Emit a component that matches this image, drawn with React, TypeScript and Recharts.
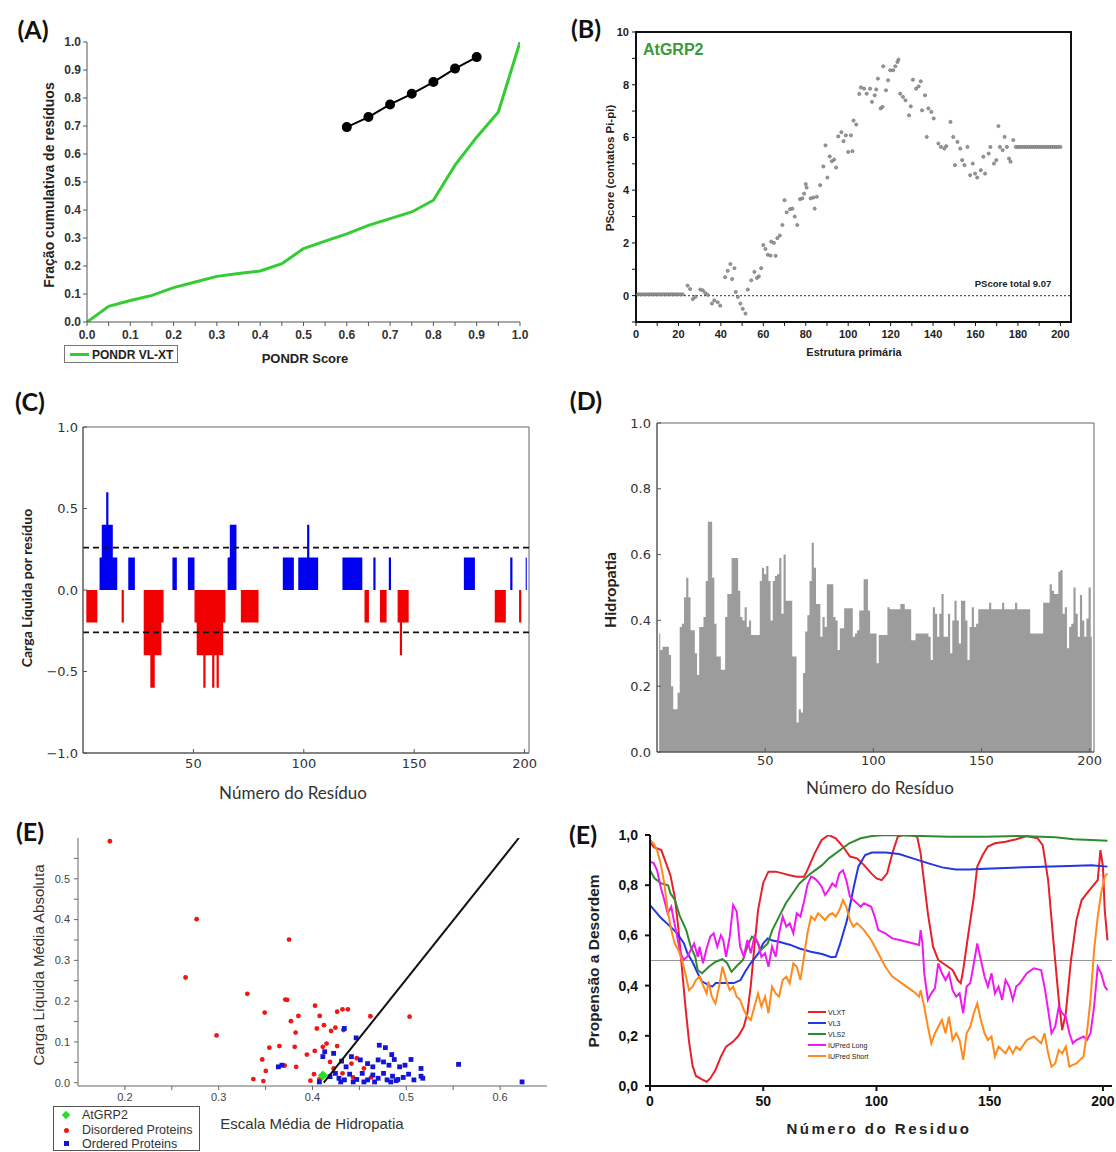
import React from "react";
import {
  LineChart,
  Line,
  XAxis,
  YAxis,
  ScatterChart,
  Scatter,
  AreaChart,
  Area,
  ReferenceLine,
  ReferenceArea,
} from "recharts";

const ARIAL = "'Liberation Sans', Arial, sans-serif";
const VERA = "'DejaVu Sans', sans-serif";
const CALIBRI = "Lato, 'Open Sans', sans-serif";

type Pt = [number, number];

// (A) PONDR cumulative distribution
const pondrScore = [0, 0.05, 0.1, 0.15, 0.2, 0.25, 0.3, 0.35, 0.4, 0.45, 0.5, 0.55, 0.6, 0.65, 0.7, 0.75, 0.8, 0.85, 0.9, 0.95, 1.0];
const vlxtCumulative = [0, 0.056, 0.077, 0.095, 0.123, 0.143, 0.163, 0.173, 0.182, 0.208, 0.262, 0.289, 0.315, 0.345, 0.369, 0.393, 0.435, 0.56, 0.66, 0.75, 1.0];
const refScore = [0.6, 0.65, 0.7, 0.75, 0.8, 0.85, 0.9];
const refCumulative = [0.696, 0.732, 0.777, 0.815, 0.857, 0.905, 0.946];
const scoreTicks = [0, 0.05, 0.1, 0.15, 0.2, 0.25, 0.3, 0.35, 0.4, 0.45, 0.5, 0.55, 0.6, 0.65, 0.7, 0.75, 0.8, 0.85, 0.9, 0.95, 1.0];
const fractionTicks = [0, 0.1, 0.2, 0.3, 0.4, 0.5, 0.6, 0.7, 0.8, 0.9, 1.0];

// (B) PScore per residue
const pscorePoints: Pt[] = [
  [1, 0.05], [2, 0.05], [3, 0.05], [4, 0.05], [5, 0.05], [6, 0.05], [7, 0.05], [8, 0.05], [9, 0.05], [10, 0.05], [11, 0.05],
  [12, 0.05], [13, 0.05], [14, 0.05], [15, 0.05], [16, 0.05], [17, 0.05], [18, 0.05], [19, 0.05], [20, 0.05], [21, 0.05], [22, 0.05],
  [24.3, 0.38], [25.5, 0.25], [26.8, -0.13], [28, -0.05], [30.3, 0.23], [31.5, 0.2], [32.6, 0.1], [33.8, 0.03], [35.8, -0.3],
  [36.9, -0.18], [38.5, -0.25], [39.7, -0.38], [42, 0.7], [43.2, 0.94], [44.5, 1.2], [45.3, 0.63], [46.4, 1.04], [47, 0.14],
  [48, -0.05], [49.2, -0.3], [50.3, -0.5], [51.6, -0.68], [52.7, 0.23], [54.3, 0.58], [55.8, 0.9], [57, 0.67], [57.9, 0.73],
  [59, 1.04], [60, 1.92], [61, 1.77], [62.1, 1.55], [63.4, 1.52], [65.8, 1.51], [63.7, 2.05], [65, 2.0], [66.6, 2.18], [67.8, 2.28],
  [69, 2.68], [70, 3.62], [71, 3.16], [72.6, 3.28], [73.7, 3.3], [74.8, 3.0], [76, 2.68], [77.3, 3.66], [78.4, 3.69], [79.2, 3.87],
  [80, 4.23], [80.4, 4.1], [82.3, 3.69], [83.6, 3.72], [84.2, 3.3], [85.2, 3.75], [86.8, 4.19], [88.3, 4.9], [89.3, 5.7],
  [90.2, 4.48], [91.3, 5.28], [92.3, 5.1], [93.4, 5.16], [94.3, 4.86], [95.3, 6.04], [96.8, 6.2], [97.8, 5.86], [98.9, 6.08],
  [100, 5.45], [101.3, 6.08], [102, 5.48], [102.5, 6.64], [103.8, 6.49], [105.2, 7.65], [106, 7.9], [107.5, 7.85], [108.7, 7.66],
  [110.3, 7.85], [111.2, 7.35], [112.5, 7.6], [113.2, 7.82], [114, 8.23], [115.3, 7.1], [116.2, 7.16], [116.5, 8.7], [117.8, 7.79],
  [118.8, 8.17], [119.8, 8.55], [121.2, 8.55], [122.2, 8.7], [123.2, 8.86], [123.7, 8.95], [124.5, 7.66], [125.8, 7.54],
  [127, 7.41], [128.7, 6.84], [129.5, 7.18], [130.5, 8.19], [132, 7.85], [133.2, 7.94], [134.2, 8.13], [134.8, 7.03], [136.2, 7.6],
  [137, 6.02], [137.8, 7.1], [139.2, 6.97], [140.3, 6.72], [142.5, 5.77], [143.7, 5.64], [145.3, 5.58], [146.2, 5.67], [148.2, 6.59],
  [149.5, 6.02], [150.3, 4.95], [151.5, 5.83], [152.8, 5.58], [153.7, 5.14], [154.8, 4.95], [156.2, 5.64], [157.5, 4.57],
  [158.7, 5.01], [159.8, 4.63], [160.8, 4.48], [162.5, 4.76], [163.7, 5.27], [164.5, 4.63], [166.2, 5.39], [167, 5.64],
  [168.7, 5.01], [169.8, 5.14], [170.8, 6.43], [171.5, 5.64], [172.8, 5.52], [173.7, 6.02], [174.8, 5.64], [175.8, 5.2],
  [176.5, 5.08], [177.8, 5.9],
  [179, 5.64], [180, 5.64], [181, 5.64], [182, 5.64], [183, 5.64], [184, 5.64], [185, 5.64], [186, 5.64], [187, 5.64], [188, 5.64],
  [189, 5.64], [190, 5.64], [191, 5.64], [192, 5.64], [193, 5.64], [194, 5.64], [195, 5.64], [196, 5.64], [197, 5.64], [198, 5.64],
  [199, 5.64], [200, 5.64],
];
const primaryTicks = [0, 10, 20, 30, 40, 50, 60, 70, 80, 90, 100, 110, 120, 130, 140, 150, 160, 170, 180, 190, 200];
const pscoreTicks = [-1, 0, 1, 2, 3, 4, 5, 6, 7, 8, 9, 10];

// (C) net charge per residue (residues 1..201)
const ncpr = [
  0, -0.2, -0.2, -0.2, -0.2, -0.2, 0, 0.2, 0.4, 0.4,
  0.6, 0.4, 0.4, 0.2, 0.2, 0, 0, -0.2, 0, 0,
  0.2, 0.2, 0.2, 0, 0, 0, 0, -0.4, -0.4, -0.4,
  -0.6, -0.6, -0.4, -0.4, -0.4, -0.2, 0, 0, 0, 0,
  0.2, 0.2, 0, 0, 0, 0, 0, 0.2, 0.2, 0.2,
  -0.2, -0.4, -0.4, -0.4, -0.6, -0.4, -0.4, -0.4, -0.6, -0.4,
  -0.6, -0.4, -0.4, -0.2, 0, 0.2, 0.4, 0.4, 0.4, 0,
  0, -0.2, -0.2, -0.2, -0.2, -0.2, -0.2, -0.2, -0.2, 0,
  0, 0, 0, 0, 0, 0, 0, 0, 0, 0,
  0.2, 0.2, 0.2, 0.2, 0.2, 0, 0, 0.2, 0.2, 0.2,
  0.2, 0.4, 0.2, 0.2, 0.2, 0.2, 0, 0, 0, 0,
  0, 0, 0, 0, 0, 0, 0, 0.2, 0.2, 0.2,
  0.2, 0.2, 0.2, 0.2, 0.2, 0.2, 0, -0.2, -0.2, 0,
  0, 0.2, 0, 0, -0.2, -0.2, -0.2, 0, 0.2, 0,
  0, 0, -0.2, -0.4, -0.2, -0.2, -0.2, 0, 0, 0,
  0, 0, 0, 0, 0, 0, 0, 0, 0, 0,
  0, 0, 0, 0, 0, 0, 0, 0, 0, 0,
  0, 0, 0.2, 0.2, 0.2, 0.2, 0.2, 0, 0, 0,
  0, 0, 0, 0, 0, 0, -0.2, -0.2, -0.2, -0.2,
  -0.2, 0, 0, 0.2, 0, 0, 0, -0.2, 0, 0,
  0.2,
];
const chargeTicks = [-1, -0.5, 0, 0.5, 1];
const residueTicks = [50, 100, 150, 200];

// (D) hydropathy per residue (residues 1..201)
const hydropathy = [
  0.36, 0.31, 0.32, 0.32, 0.32, 0.295, 0.2, 0.13, 0.13, 0.18,
  0.38, 0.39, 0.47, 0.53, 0.47, 0.37, 0.37, 0.3, 0.234, 0.38,
  0.38, 0.41, 0.52, 0.7, 0.7, 0.53, 0.39, 0.29, 0.29, 0.25,
  0.25, 0.41, 0.48, 0.48, 0.59, 0.59, 0.59, 0.49, 0.41, 0.4,
  0.44, 0.38, 0.4, 0.356, 0.356, 0.356, 0.356, 0.52, 0.56, 0.54,
  0.565, 0.52, 0.4, 0.52, 0.535, 0.54, 0.59, 0.42, 0.6, 0.46,
  0.46, 0.46, 0.29, 0.29, 0.09, 0.13, 0.12, 0.24, 0.366, 0.416,
  0.52, 0.636, 0.56, 0.45, 0.45, 0.35, 0.41, 0.38, 0.51, 0.51,
  0.51, 0.41, 0.4, 0.31, 0.376, 0.376, 0.437, 0.437, 0.437, 0.437,
  0.35, 0.36, 0.37, 0.43, 0.43, 0.525, 0.525, 0.43, 0.36, 0.36,
  0.36, 0.27, 0.356, 0.356, 0.356, 0.356, 0.44, 0.434, 0.434, 0.434,
  0.434, 0.434, 0.45, 0.45, 0.434, 0.434, 0.434, 0.34, 0.34, 0.36,
  0.36, 0.36, 0.36, 0.36, 0.36, 0.35, 0.28, 0.44, 0.42, 0.35,
  0.42, 0.48, 0.35, 0.35, 0.42, 0.3, 0.4, 0.46, 0.4, 0.33,
  0.46, 0.46, 0.4, 0.28, 0.38, 0.44, 0.38, 0.39, 0.434, 0.434,
  0.434, 0.434, 0.434, 0.454, 0.434, 0.434, 0.434, 0.434, 0.434, 0.454,
  0.434, 0.434, 0.434, 0.434, 0.434, 0.454, 0.434, 0.434, 0.434, 0.434,
  0.434, 0.434, 0.36, 0.36, 0.36, 0.36, 0.36, 0.36, 0.454, 0.454,
  0.454, 0.51, 0.49, 0.48, 0.48, 0.548, 0.553, 0.42, 0.44, 0.315,
  0.38, 0.39, 0.5, 0.42, 0.35, 0.477, 0.4, 0.35, 0.406, 0.5,
  0.35,
];
const hydroTicks = [0, 0.2, 0.4, 0.6, 0.8, 1.0];

// (E) charge-hydropathy plot
const disorderedProteins: Pt[] = [
  [0.184, 0.592], [0.2765, 0.401], [0.375, 0.351], [0.2647, 0.258], [0.3305, 0.218], [0.371, 0.204], [0.373, 0.203],
  [0.2977, 0.116], [0.349, 0.172], [0.385, 0.164], [0.377, 0.151], [0.382, 0.123], [0.4027, 0.189], [0.4077, 0.164],
  [0.4046, 0.133], [0.4122, 0.141], [0.4263, 0.174], [0.432, 0.18], [0.4377, 0.18], [0.4244, 0.135], [0.4198, 0.127],
  [0.433, 0.129], [0.4617, 0.163], [0.5035, 0.162], [0.354, 0.086], [0.3647, 0.09], [0.381, 0.088], [0.3464, 0.057],
  [0.3704, 0.042], [0.3826, 0.039], [0.3502, 0.029], [0.3369, 0.009], [0.3476, 0.004], [0.394, 0.069], [0.4024, 0.078],
  [0.411, 0.088], [0.415, 0.096], [0.4263, 0.09], [0.4016, 0.021], [0.3978, 0.005], [0.4073, 0.008], [0.4187, 0.051],
  [0.4225, 0.035], [0.432, 0.023], [0.4415, 0.047], [0.4434, 0.013], [0.4548, 0.035], [0.4624, 0.013], [0.4472, 0.06],
];
const orderedProteins: Pt[] = [
  [0.4339, 0.133], [0.4465, 0.11], [0.4712, 0.092], [0.4777, 0.086], [0.4845, 0.069], [0.4872, 0.057], [0.505, 0.057],
  [0.5557, 0.045], [0.6234, 0.002], [0.3636, 0.039], [0.3674, 0.043], [0.411, 0.064], [0.413, 0.076], [0.4225, 0.072],
  [0.431, 0.053], [0.4358, 0.039], [0.4415, 0.064], [0.451, 0.056], [0.4587, 0.047], [0.4643, 0.039], [0.47, 0.056],
  [0.4757, 0.051], [0.4815, 0.043], [0.4929, 0.039], [0.4986, 0.043], [0.5157, 0.035], [0.4244, 0.023], [0.4282, 0.011],
  [0.434, 0.007], [0.4396, 0.021], [0.4472, 0.008], [0.453, 0.023], [0.4587, 0.007], [0.4643, 0.019], [0.47, 0.011],
  [0.4757, 0.023], [0.4795, 0.007], [0.4853, 0.016], [0.491, 0.008], [0.4967, 0.013], [0.5024, 0.021], [0.5081, 0.007],
  [0.5157, 0.016], [0.5176, 0.011], [0.4301, 0.002], [0.4434, 0.002], [0.4548, 0.002], [0.4662, 0.002], [0.4834, 0.002],
  [0.4891, 0.005], [0.4187, 0.015], [0.4073, 0.002],
];
const atgrp2Point: Pt[] = [[0.411, 0.018]];
const boundaryLine: Pt[] = [[0.412, 0.0], [0.62, 0.6]];
const hydroScaleTicks = [0.2, 0.25, 0.3, 0.35, 0.4, 0.45, 0.5, 0.55, 0.6];
const meanChargeTicks = [0, 0.05, 0.1, 0.15, 0.2, 0.25, 0.3, 0.35, 0.4, 0.45, 0.5, 0.55];

// (E, right) disorder predictors
const vlxt: Pt[] = [
  [0, 0.97], [2, 0.95], [5, 0.94], [7, 0.89], [9, 0.84], [11, 0.75], [12.5, 0.63], [14, 0.48], [15.6, 0.32], [17.2, 0.18],
  [18.8, 0.08], [20.3, 0.04], [22.7, 0.027], [25, 0.017], [26.6, 0.03], [28.9, 0.064], [31.3, 0.117], [33.6, 0.157],
  [36.7, 0.177], [39.1, 0.2], [41.4, 0.236], [43, 0.29], [44.5, 0.4], [46.1, 0.555], [47.7, 0.7], [50, 0.81], [52.3, 0.854],
  [55.5, 0.854], [58.6, 0.847], [61.7, 0.84], [64.8, 0.834], [68, 0.834], [69.5, 0.86], [72.7, 0.927], [75.8, 0.98],
  [78.9, 1.0], [82, 0.987], [85.2, 0.954], [88.3, 0.914], [91.4, 0.907], [94.5, 0.88], [97.7, 0.847], [100, 0.827],
  [102.3, 0.82], [104.7, 0.847], [107, 0.927], [109.4, 0.993], [111.7, 1.0], [114.8, 1.0], [118, 0.993], [119.5, 0.927],
  [121.1, 0.807], [122.7, 0.688], [125, 0.555], [127.3, 0.502], [130.5, 0.482], [133.6, 0.462], [135.9, 0.422],
  [137.2, 0.41], [138.3, 0.462], [140.6, 0.608], [143, 0.754], [144.5, 0.874], [146.9, 0.92], [149.2, 0.954],
  [152.3, 0.967], [157, 0.973], [161.7, 0.983], [166.4, 0.996], [171.1, 0.987], [173.4, 0.96], [175.8, 0.82],
  [178.1, 0.58], [180.5, 0.343], [182, 0.223], [183.6, 0.29], [185.9, 0.502], [188.3, 0.661], [190.6, 0.741],
  [193, 0.768], [195.3, 0.794], [197.7, 0.82], [198.9, 0.94], [200, 0.874], [200.8, 0.7], [202, 0.58],
];
const vl3: Pt[] = [
  [0, 0.72], [2, 0.7], [5, 0.668], [9, 0.635], [12, 0.608], [15, 0.568], [16.5, 0.53], [19, 0.49], [21, 0.45], [23, 0.416],
  [26, 0.402], [27.5, 0.396], [29, 0.41], [32, 0.41], [37, 0.41], [40, 0.422], [42, 0.455], [44.5, 0.49], [48, 0.53],
  [50, 0.568], [52, 0.588], [54, 0.58], [57, 0.575], [62, 0.562], [66, 0.548], [71, 0.535], [76, 0.526], [80, 0.513],
  [82, 0.515], [84, 0.568], [87, 0.661], [90, 0.794], [92, 0.874], [95, 0.92], [98, 0.93], [104, 0.93], [110, 0.924],
  [116, 0.907], [123, 0.887], [129, 0.871], [135, 0.863], [141, 0.863], [148, 0.866], [160, 0.87], [173, 0.874],
  [185, 0.876], [195, 0.879], [202, 0.874],
];
const vls2: Pt[] = [
  [0, 0.86], [2, 0.827], [5, 0.807], [8, 0.8], [9, 0.768], [11, 0.741], [13, 0.681], [16, 0.621], [18, 0.555], [20, 0.515],
  [21, 0.462], [23, 0.449], [26, 0.475], [29, 0.495], [32, 0.505], [34, 0.49], [36, 0.455], [38, 0.475], [41, 0.502],
  [43, 0.555], [45, 0.595], [47, 0.582], [49, 0.542], [52, 0.568], [54, 0.621], [57, 0.675], [60, 0.728], [63, 0.768],
  [66, 0.807], [70, 0.84], [73, 0.86], [76, 0.88], [79, 0.907], [84, 0.94], [88, 0.967], [93, 0.987], [98, 0.996],
  [104, 1.0], [116, 0.997], [132, 0.993], [148, 0.993], [163, 0.996], [179, 0.991], [187, 0.983], [195, 0.98], [202, 0.977],
];
const iupredLong: Pt[] = [
  [0, 0.894], [1.6, 0.888], [3.1, 0.86], [4.7, 0.794], [6.3, 0.741], [7.8, 0.688], [9.4, 0.714], [10.2, 0.675], [11.7, 0.608],
  [13.3, 0.535], [14.8, 0.502], [16.4, 0.515], [18, 0.542], [19.5, 0.568], [21.1, 0.515], [21.9, 0.555], [23.4, 0.489],
  [25, 0.548], [26.6, 0.595], [28.1, 0.608], [29.7, 0.555], [31.3, 0.601], [32.3, 0.582], [33.6, 0.515], [35.2, 0.595],
  [36.7, 0.721], [38.3, 0.695], [39.8, 0.555], [41.4, 0.515], [43, 0.582], [44.5, 0.529], [46.1, 0.595], [47.7, 0.568],
  [49.2, 0.515], [50.8, 0.529], [52.3, 0.475], [53.9, 0.555], [55.5, 0.515], [57, 0.608], [58.6, 0.675], [60.2, 0.635],
  [61.7, 0.648], [63.3, 0.608], [64.8, 0.688], [66.4, 0.675], [68, 0.734], [69.5, 0.8], [71.1, 0.834], [72.7, 0.827],
  [74.2, 0.814], [75.8, 0.794], [77.3, 0.761], [78.9, 0.781], [80.5, 0.807], [82, 0.794], [83.6, 0.847], [85.2, 0.86],
  [86.7, 0.82], [88.3, 0.754], [89.8, 0.741], [91.4, 0.728], [93, 0.714], [94.5, 0.728], [97.7, 0.714], [99.2, 0.675],
  [100.8, 0.621], [103.9, 0.608], [107, 0.588], [110.2, 0.582], [113.3, 0.575], [116.4, 0.568], [118.8, 0.562],
  [119.5, 0.621], [120.3, 0.568], [121.1, 0.449], [122.7, 0.343], [124.2, 0.369], [125.8, 0.389], [127.3, 0.489],
  [128.9, 0.449], [130.5, 0.422], [132, 0.449], [133.6, 0.382], [135.2, 0.356], [136.7, 0.369], [138.3, 0.29],
  [139.8, 0.396], [141.4, 0.409], [143, 0.489], [144.5, 0.568], [146.1, 0.502], [147.7, 0.436], [149.2, 0.396],
  [150.8, 0.449], [152.3, 0.369], [153.9, 0.396], [155.5, 0.343], [157, 0.422], [158.6, 0.396], [160.2, 0.343],
  [161.7, 0.396], [163.3, 0.409], [166.4, 0.449], [169.5, 0.469], [172.7, 0.462], [174.2, 0.396], [175.8, 0.303],
  [177.3, 0.21], [178.9, 0.236], [180.5, 0.316], [182, 0.29], [183.6, 0.276], [185.2, 0.21], [186.7, 0.17], [188.3, 0.183],
  [191.4, 0.197], [192.9, 0.183], [194.5, 0.21], [196.1, 0.316], [197.7, 0.475], [199.2, 0.449], [200.8, 0.396], [202, 0.382],
];
const iupredShort: Pt[] = [
  [0, 0.98], [1.6, 0.967], [3.1, 0.94], [4.7, 0.887], [6.3, 0.807], [7.8, 0.7], [9.4, 0.621], [10.9, 0.568], [12.5, 0.542],
  [14.1, 0.502], [15.6, 0.449], [17.2, 0.382], [18.8, 0.396], [20.3, 0.422], [21.9, 0.436], [23.4, 0.402], [25, 0.369],
  [25.8, 0.416], [27.3, 0.356], [28.9, 0.329], [30.5, 0.396], [32, 0.475], [33.6, 0.422], [35.2, 0.382], [36.7, 0.396],
  [38.3, 0.356], [39.8, 0.343], [41.4, 0.303], [43, 0.276], [44.5, 0.263], [46.1, 0.316], [47.7, 0.369], [49.2, 0.316],
  [50.8, 0.356], [52.3, 0.29], [53.9, 0.396], [55.5, 0.369], [57, 0.356], [58.6, 0.422], [60.2, 0.436], [61.7, 0.409],
  [63.3, 0.489], [64.8, 0.475], [66.4, 0.422], [68, 0.515], [69.5, 0.608], [71.1, 0.675], [72.7, 0.661], [74.2, 0.688],
  [75.8, 0.675], [77.3, 0.661], [78.9, 0.681], [80.5, 0.688], [82, 0.675], [83.6, 0.7], [85.2, 0.741], [86.7, 0.714],
  [88.3, 0.661], [89.8, 0.635], [91.4, 0.648], [93, 0.635], [94.5, 0.621], [97.7, 0.582], [100.8, 0.529], [103.9, 0.475],
  [107, 0.436], [110.2, 0.416], [113.3, 0.396], [116.4, 0.376], [118.8, 0.356], [119.5, 0.382], [121.1, 0.316],
  [122.7, 0.236], [124.2, 0.17], [125.8, 0.21], [127.3, 0.236], [128.9, 0.263], [130.5, 0.21], [132, 0.276], [133.6, 0.183],
  [135.2, 0.21], [136.7, 0.183], [138.3, 0.104], [139.8, 0.21], [141.4, 0.236], [143, 0.29], [144.5, 0.329], [146.1, 0.263],
  [147.7, 0.21], [149.2, 0.183], [150.8, 0.197], [152.3, 0.117], [153.9, 0.157], [155.5, 0.143], [157, 0.13], [158.6, 0.157],
  [160.2, 0.13], [161.7, 0.157], [163.3, 0.143], [166.4, 0.183], [169.5, 0.197], [172.7, 0.17], [174.2, 0.21], [175.8, 0.13],
  [177.3, 0.077], [178.9, 0.09], [180.5, 0.143], [182, 0.13], [183.6, 0.157], [185.2, 0.077], [186.7, 0.084], [188.3, 0.09],
  [189.8, 0.104], [191.4, 0.117], [192.9, 0.21], [194.5, 0.343], [196.1, 0.542], [197.7, 0.675], [199.2, 0.768],
  [200.8, 0.834], [202, 0.847],
];
const propensityTicks = [0, 0.2, 0.4, 0.6, 0.8, 1.0];
const residueTicksF = [0, 50, 100, 150, 200];

const predictors = [
  { name: "VLXT", color: "#e8202a", data: vlxt },
  { name: "VL3", color: "#2238e0", data: vl3 },
  { name: "VLS2", color: "#2e8b2e", data: vls2 },
  { name: "IUPred Long", color: "#f01af0", data: iupredLong },
  { name: "IUPred Short", color: "#ff8a1c", data: iupredShort },
];

const toXY = (pts: Pt[]) => pts.map(([x, y]) => ({ x, y }));
const isTenth = (v: number) => Math.abs(v * 10 - Math.round(v * 10)) < 1e-6;

function Txt({
  x, y, children, size = 12, bold = false, color = "#222", font = ARIAL, rotate = false, left = false, spacing = 0,
}: {
  x: number; y: number; children: React.ReactNode; size?: number; bold?: boolean; color?: string;
  font?: string; rotate?: boolean; left?: boolean; spacing?: number;
}) {
  return (
    <div
      style={{
        position: "absolute",
        left: x,
        top: y,
        transform: `translate(${left ? "0" : "-50%"}, -50%)${rotate ? " rotate(-90deg)" : ""}`,
        fontSize: size,
        fontWeight: bold ? 700 : 400,
        color,
        fontFamily: font,
        whiteSpace: "nowrap",
        lineHeight: 1,
        letterSpacing: spacing,
      }}
    >
      {children}
    </div>
  );
}

function Box({ x, y, w, h, children }: { x: number; y: number; w: number; h: number; children?: React.ReactNode }) {
  return <div style={{ position: "absolute", left: x, top: y, width: w, height: h }}>{children}</div>;
}

function PanelA() {
  const green = pondrScore.map((x, i) => ({ x, y: vlxtCumulative[i] }));
  const black = refScore.map((x, i) => ({ x, y: refCumulative[i] }));
  const tick = { fontSize: 12, fontWeight: 700, fill: "#333", fontFamily: ARIAL };
  return (
    <Box x={0} y={0} w={560} h={370}>
      <LineChart width={560} height={370} margin={{ top: 42, right: 40, bottom: 18, left: 37 }}>
        <XAxis dataKey="x" type="number" domain={[0, 1]} ticks={scoreTicks} interval={0} allowDataOverflow
          tickFormatter={(v: number) => (isTenth(v) ? v.toFixed(1) : "")}
          height={30} tickSize={4} tickMargin={4} stroke="#555" tick={tick} />
        <YAxis dataKey="y" type="number" domain={[0, 1]} ticks={fractionTicks} interval={0} allowDataOverflow
          tickFormatter={(v: number) => v.toFixed(1)} width={50} tickSize={4} tickMargin={2} stroke="#555" tick={tick} />
        <Line data={green} dataKey="y" stroke="#33cc33" strokeWidth={3} dot={false} isAnimationActive={false} />
        <Line data={black} dataKey="y" stroke="#000" strokeWidth={2}
          dot={{ r: 4, fill: "#000", stroke: "#000" }} isAnimationActive={false} />
      </LineChart>
    </Box>
  );
}

function PanelB() {
  const tick = { fontSize: 11, fontWeight: 700, fill: "#222", fontFamily: ARIAL };
  return (
    <Box x={560} y={0} w={556} h={370}>
      <ScatterChart width={556} height={370} margin={{ top: 32, right: 45, bottom: 18, left: 36 }}>
        <XAxis dataKey="x" type="number" domain={[0, 205]} ticks={primaryTicks} interval={0} allowDataOverflow
          tickFormatter={(v: number) => (v % 20 === 0 ? String(v) : "")}
          height={30} tickSize={4} tickMargin={4} stroke="#111" tick={tick} />
        <YAxis dataKey="y" type="number" domain={[-1, 10]} ticks={pscoreTicks} interval={0} allowDataOverflow
          tickFormatter={(v: number) => (v >= 0 && v % 2 === 0 ? String(v) : "")}
          width={40} tickSize={4} tickMargin={3} stroke="#111" tick={tick} />
        <ReferenceLine y={0} stroke="#555" strokeDasharray="2 2" strokeWidth={1.3} />
        <Scatter data={toXY(pscorePoints)} isAnimationActive={false}
          shape={(p: any) => <circle cx={p.cx} cy={p.cy} r={1.6} fill="#9a9a9a" stroke="#6a6a6a" strokeWidth={0.6} />} />
        <ReferenceArea x1={0} x2={205} y1={-1} y2={10} fill="none" stroke="#111" strokeWidth={2} />
      </ScatterChart>
    </Box>
  );
}

function PanelC() {
  const data = ncpr.map((v, i) => ({ r: i + 1, pos: v > 0 ? v : 0, neg: v < 0 ? v : 0 }));
  const tick = { fontSize: 13, fill: "#333", fontFamily: VERA };
  return (
    <Box x={0} y={380} w={560} h={420}>
      <AreaChart width={560} height={420} data={data} margin={{ top: 47, right: 31, bottom: 17, left: 38 }}>
        <XAxis dataKey="r" type="number" domain={[0, 202]} ticks={residueTicks} interval={0} allowDataOverflow
          height={30} tickSize={-4} tickMargin={10} stroke="#555" tick={tick} />
        <XAxis xAxisId="top" orientation="top" type="number" domain={[0, 202]} ticks={residueTicks} interval={0}
          allowDataOverflow height={0} tickSize={-4} tick={false} stroke="#555" />
        <YAxis type="number" domain={[-1, 1]} ticks={chargeTicks} interval={0} allowDataOverflow
          tickFormatter={(v: number) => v.toFixed(1).replace("-", "\u2212")}
          width={45} tickSize={-4} tickMargin={9} stroke="#555" tick={tick} />
        <YAxis yAxisId="right" orientation="right" type="number" domain={[-1, 1]} ticks={chargeTicks} interval={0}
          allowDataOverflow width={0} tickSize={-4} tick={false} stroke="#555" />
        <Area type="step" dataKey="pos" baseValue={0} fill="#0000f0" fillOpacity={1} stroke="none" isAnimationActive={false} />
        <Area type="step" dataKey="neg" baseValue={0} fill="#f00000" fillOpacity={1} stroke="none" isAnimationActive={false} />
        <ReferenceLine y={0.26} stroke="#111" strokeDasharray="6 4" strokeWidth={1.8} />
        <ReferenceLine y={-0.26} stroke="#111" strokeDasharray="6 4" strokeWidth={1.8} />
        <ReferenceArea x1={0} x2={202} y1={-1} y2={1} fill="none" stroke="#666" strokeWidth={1} />
      </AreaChart>
    </Box>
  );
}

function PanelD() {
  const data = hydropathy.map((v, i) => ({ r: i + 1, h: v }));
  const tick = { fontSize: 13, fill: "#333", fontFamily: VERA };
  return (
    <Box x={560} y={380} w={556} h={420}>
      <AreaChart width={556} height={420} data={data} margin={{ top: 43, right: 22, bottom: 18, left: 52 }}>
        <XAxis dataKey="r" type="number" domain={[0, 202]} ticks={residueTicks} interval={0} allowDataOverflow
          height={30} tickSize={-4} tickMargin={8} stroke="#555" tick={tick} />
        <XAxis xAxisId="top" orientation="top" type="number" domain={[0, 202]} ticks={residueTicks} interval={0}
          allowDataOverflow height={0} tickSize={-4} tick={false} stroke="#555" />
        <YAxis type="number" domain={[0, 1]} ticks={hydroTicks} interval={0} allowDataOverflow
          tickFormatter={(v: number) => v.toFixed(1)}
          width={45} tickSize={-4} tickMargin={10} stroke="#555" tick={tick} />
        <YAxis yAxisId="right" orientation="right" type="number" domain={[0, 1]} ticks={hydroTicks} interval={0}
          allowDataOverflow width={0} tickSize={-4} tick={false} stroke="#555" />
        <Area type="step" dataKey="h" baseValue={0} fill="#9c9c9c" fillOpacity={1} stroke="none" isAnimationActive={false} />
        <ReferenceArea x1={0} x2={202} y1={0} y2={1} fill="none" stroke="#666" strokeWidth={1} />
      </AreaChart>
    </Box>
  );
}

function PanelE() {
  const tick = { fontSize: 11, fill: "#444", fontFamily: ARIAL };
  return (
    <Box x={0} y={800} w={560} h={352}>
      <ScatterChart width={560} height={352} margin={{ top: 38, right: 13, bottom: 36, left: 38 }}>
        <XAxis dataKey="x" type="number" domain={[0.15, 0.65]} ticks={hydroScaleTicks} interval={0} allowDataOverflow
          tickFormatter={(v: number) => (isTenth(v) ? v.toFixed(1) : "")}
          height={30} tickSize={4} tickMargin={3} stroke="#666" tick={tick} />
        <YAxis dataKey="y" type="number" domain={[-0.008, 0.6]} ticks={meanChargeTicks} interval={0} allowDataOverflow
          tickFormatter={(v: number) => (isTenth(v) ? v.toFixed(1) : "")}
          width={40} tickSize={4} tickMargin={4} stroke="#666" tick={tick} />
        <Scatter data={toXY(disorderedProteins)} isAnimationActive={false}
          shape={(p: any) => <circle cx={p.cx} cy={p.cy} r={2.4} fill="#ee1818" />} />
        <Scatter data={toXY(orderedProteins)} isAnimationActive={false}
          shape={(p: any) => <rect x={p.cx - 2.4} y={p.cy - 2.4} width={4.8} height={4.8} fill="#1414d8" />} />
        <Scatter data={toXY(boundaryLine)} isAnimationActive={false} line={{ stroke: "#111", strokeWidth: 2 }}
          shape={() => <g />} />
        <Scatter data={toXY(atgrp2Point)} isAnimationActive={false}
          shape={(p: any) => (
            <polygon points={`${p.cx},${p.cy - 5} ${p.cx + 5},${p.cy} ${p.cx},${p.cy + 5} ${p.cx - 5},${p.cy}`} fill="#22e022" />
          )} />
      </ScatterChart>
    </Box>
  );
}

function PanelF() {
  const tick = { fontSize: 14, fontWeight: 700, fill: "#111", fontFamily: ARIAL };
  return (
    <Box x={560} y={800} w={556} h={352}>
      <LineChart width={556} height={352} margin={{ top: 35, right: 4, bottom: 36, left: 45 }}>
        <XAxis dataKey="x" type="number" domain={[0, 204]} ticks={residueTicksF} interval={0} allowDataOverflow
          height={30} tickSize={5} tickMargin={5} stroke="#111" strokeWidth={2} tick={tick} />
        <YAxis dataKey="y" type="number" domain={[0, 1]} ticks={propensityTicks} interval={0} allowDataOverflow
          tickFormatter={(v: number) => v.toFixed(1).replace(".", ",")}
          width={45} tickSize={5} tickMargin={7} stroke="#111" strokeWidth={2} tick={tick} />
        <ReferenceLine y={0.5} stroke="#999" strokeWidth={1} />
        {predictors.map((s) => (
          <Line key={s.name} data={toXY(s.data)} dataKey="y" stroke={s.color} strokeWidth={2} dot={false}
            isAnimationActive={false} />
        ))}
      </LineChart>
    </Box>
  );
}

export default function App() {
  return (
    <div style={{ position: "absolute", left: 0, top: 0, width: 1116, height: 1152, background: "#fff", overflow: "hidden" }}>
      <PanelA />
      <PanelB />
      <PanelC />
      <PanelD />
      <PanelE />
      <PanelF />

      {/* panel letters */}
      <Txt x={33} y={29} size={25} bold font={CALIBRI} color="#111">(A)</Txt>
      <Txt x={586} y={28} size={25} bold font={CALIBRI} color="#111">(B)</Txt>
      <Txt x={30} y={401} size={25} bold font={CALIBRI} color="#111">(C)</Txt>
      <Txt x={586} y={400} size={25} bold font={CALIBRI} color="#111">(D)</Txt>
      <Txt x={30} y={831} size={25} bold font={CALIBRI} color="#111">(E)</Txt>
      <Txt x={583} y={834} size={25} bold font={CALIBRI} color="#111">(E)</Txt>

      {/* A */}
      <Txt x={49} y={185} size={14} bold rotate color="#222">Fração cumulativa de resíduos</Txt>
      <Txt x={305} y={358} size={13} bold color="#222">PONDR Score</Txt>
      <div style={{ position: "absolute", left: 64, top: 345, width: 112, height: 16, border: "1px solid #777" }}>
        <div style={{ position: "absolute", left: 5, top: 6.5, width: 19, height: 3, background: "#33cc33" }} />
        <Txt x={27} y={8.5} size={12} bold left color="#222">PONDR VL-XT</Txt>
      </div>

      {/* B */}
      <Txt x={643} y={50} size={16} bold left color="#3a9a3a">AtGRP2</Txt>
      <Txt x={1013} y={284} size={9.5} bold color="#222">PScore total 9.07</Txt>
      <Txt x={611} y={168} size={11.5} bold rotate color="#222">PScore (contatos Pi-pi)</Txt>
      <Txt x={854} y={352} size={11} bold color="#222">Estrutura primária</Txt>

      {/* C */}
      <Txt x={27} y={588} size={14} bold rotate font={CALIBRI} color="#222">Carga Líquida por resíduo</Txt>
      <Txt x={293} y={792} size={17} font={CALIBRI} color="#333">Número do Resíduo</Txt>

      {/* D */}
      <Txt x={610} y={590} size={16} bold rotate font={CALIBRI} color="#222">Hidropatia</Txt>
      <Txt x={880} y={787} size={17} font={CALIBRI} color="#333">Número do Resíduo</Txt>

      {/* E (left) */}
      <Txt x={38} y={965} size={15} rotate color="#333">Carga Líquida Média Absoluta</Txt>
      <Txt x={312} y={1123} size={15} color="#333">Escala Média de Hidropatia</Txt>
      <div style={{ position: "absolute", left: 53, top: 1106, width: 145, height: 43, border: "1px solid #555" }}>
        <div style={{ position: "absolute", left: 9, top: 5, width: 6, height: 6, background: "#22e022", transform: "rotate(45deg)" }} />
        <Txt x={28} y={8} size={12.5} left color="#333">AtGRP2</Txt>
        <div style={{ position: "absolute", left: 10, top: 21, width: 5, height: 5, borderRadius: 3, background: "#ee1818" }} />
        <Txt x={28} y={23} size={12.5} left color="#333">Disordered Proteins</Txt>
        <div style={{ position: "absolute", left: 10, top: 34, width: 5, height: 5, background: "#1414d8" }} />
        <Txt x={28} y={36.5} size={12.5} left color="#333">Ordered Proteins</Txt>
      </div>

      {/* E (right) */}
      <Txt x={594} y={961} size={15.5} bold rotate color="#222">Propensão a Desordem</Txt>
      <Txt x={879} y={1128} size={15} bold spacing={2.5} color="#222">Número do Residuo</Txt>
      {predictors.map((s, i) => (
        <React.Fragment key={s.name}>
          <div style={{ position: "absolute", left: 808, top: 1011 + i * 11.1, width: 18, height: 2, background: s.color }} />
          <Txt x={828} y={1012 + i * 11.1} size={7} left color="#222">{s.name}</Txt>
        </React.Fragment>
      ))}
    </div>
  );
}
